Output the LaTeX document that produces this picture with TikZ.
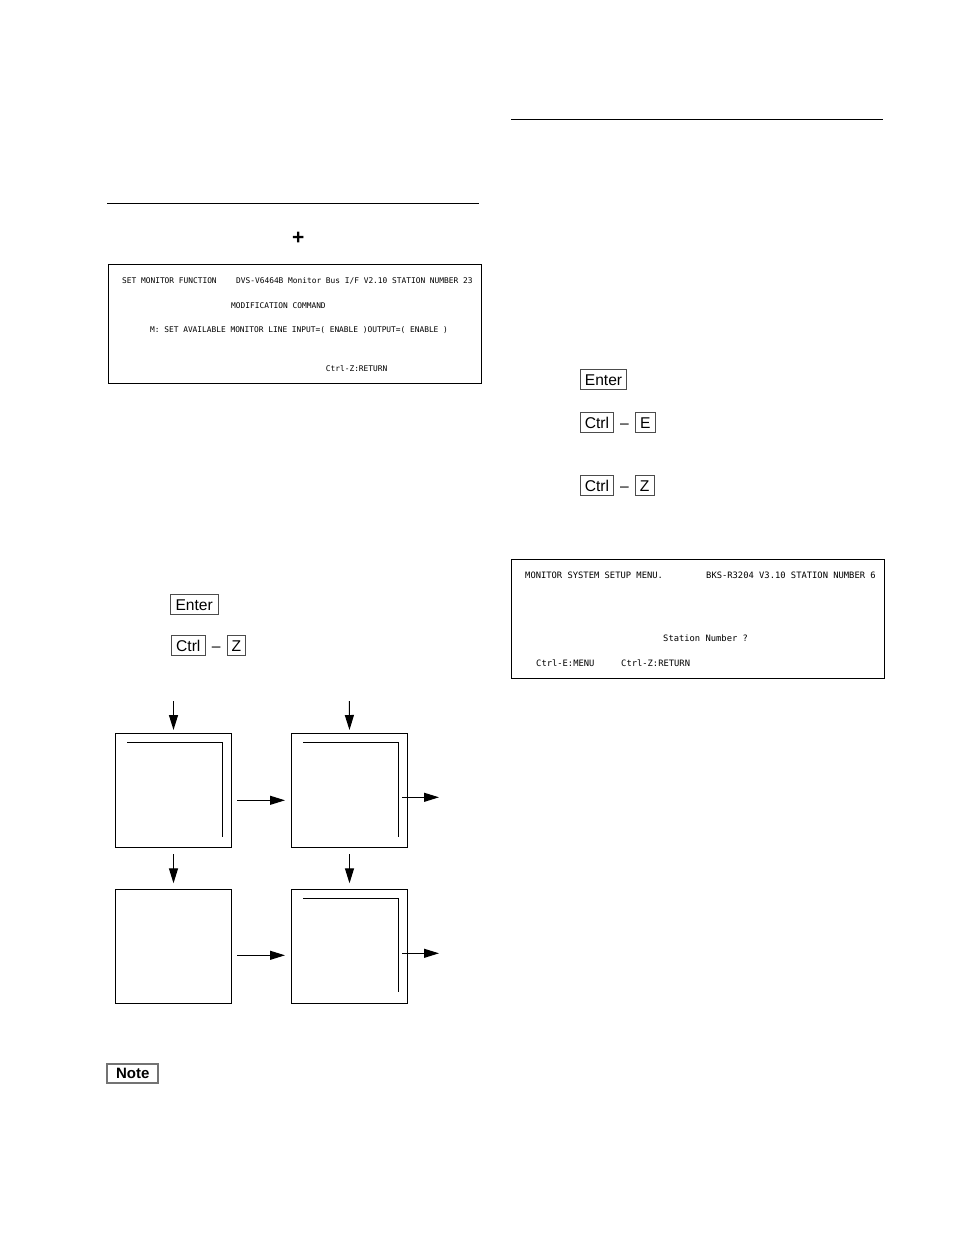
\documentclass[tikz,border=0pt]{standalone}
\usepackage{fontspec}
\setmainfont{Liberation Sans}
\newfontfamily\scrfont{DejaVu Sans Mono}
\usetikzlibrary{calc, positioning, arrows.meta}

\begin{document}
\begin{tikzpicture}[
  x=1pt, y=-1pt,
  scra/.style={anchor=west, inner sep=0pt, font=\scrfont\fontsize{7.85}{9}\selectfont},
  scrb/.style={anchor=west, inner sep=0pt, font=\scrfont\fontsize{8.8}{10}\selectfont},
  screen/.style={draw, line width=1.1pt, outer sep=0pt, minimum width=373pt, minimum height=119pt},
  keycap/.style={draw=black!70, line width=1pt, outer sep=0pt, inner sep=0pt, minimum height=19.5pt, text height=11.2pt, text depth=0pt, font=\fontsize{15.6}{18}\selectfont},
  keydash/.style={inner sep=0pt, outer sep=0pt, minimum width=21.7pt, text height=11.2pt, text depth=0pt, font=\fontsize{15.6}{18}\selectfont},
  mon/.style={draw, line width=1.1pt, outer sep=0pt, minimum width=116.4pt, minimum height=114pt},
  inner/.style={line width=1.1pt},
  arr/.style={-{Triangle[length=15pt,width=9pt]}, line width=1.1pt}
]
\useasboundingbox (0,0) rectangle (954,1243);
% rules
\draw[line width=1.1pt] (107,203.6) -- (479,203.6);
\draw[line width=1.1pt] (511,119.5) -- (883,119.5);
\node (plus) at (298.3,238) [inner sep=0pt, font=\bfseries\fontsize{21}{23}\selectfont] {+};

% first screen
\node (scr1) at (295,323.8) [screen] {};
\node (s1a) at (122,280.4) [scra] {SET MONITOR FUNCTION};
\node (s1b) at (236,280.4) [scra] {DVS-V6464B Monitor Bus I/F V2.10 STATION NUMBER 23};
\node (s1c) at (231,305.4) [scra] {MODIFICATION COMMAND};
\node (s1d) at (150,330.4) [scra] {M: SET AVAILABLE MONITOR LINE INPUT=( ENABLE )OUTPUT=( ENABLE )};
\node (s1e) at (325.7,368.4) [scra] {Ctrl-Z:RETURN};

% second screen
\node (scr2) at (698,618.8) [screen] {};
\node (s2a) at (525,575.4) [scrb] {MONITOR SYSTEM SETUP MENU.};
\node (s2b) at (706,575.4) [scrb] {BKS-R3204 V3.10 STATION NUMBER 6};
\node (s2c) at (663,638) [scrb] {Station Number ?};
\node (s2d) at (536,663.4) [scrb] {Ctrl-E:MENU};
\node (s2e) at (621,663.4) [scrb] {Ctrl-Z:RETURN};

% keys, left column
\node (entl) at (194.2,604.6) [keycap, minimum width=47.7pt] {Enter};
\node (ctrl) at (188.3,645.6) [keycap, minimum width=34pt] {Ctrl};
\node (dl) [keydash, right=0pt of ctrl] {–};
\node (zl) [keycap, right=0pt of dl, minimum width=18.7pt] {Z};

% keys, right column
\node (entr) at (603.5,379.7) [keycap, minimum width=46.7pt] {Enter};
\node (ctre) at (597,422.4) [keycap, minimum width=33.4pt] {Ctrl};
\node (de) [keydash, right=0pt of ctre] {–};
\node (ke) [keycap, right=0pt of de, minimum width=20pt] {E};
\node (ctrz) at (597,485.7) [keycap, minimum width=33.4pt] {Ctrl};
\node (dz) [keydash, right=0pt of ctrz] {–};
\node (kz) [keycap, right=0pt of dz, minimum width=18.7pt] {Z};

% monitors
\node (mona) at (173.5,790.3) [mon] {};
\node (monb) [mon, right=59.6pt of mona] {};
\node (monc) [mon, below=42pt of mona] {};
\node (mond) [mon, below=42pt of monb] {};
\draw[inner] ([shift={(11.7,9)}]mona.north west) -| ([shift={(-9,-10.6)}]mona.south east);
\draw[inner] ([shift={(11.7,9)}]monb.north west) -| ([shift={(-9,-10.6)}]monb.south east);
\draw[inner] ([shift={(11.7,9)}]mond.north west) -| ([shift={(-9,-11.6)}]mond.south east);

\coordinate (ina) at (173.5,701);
\coordinate (inb) at (349.3,701);
\coordinate (outb) at (439,797.3);
\coordinate (outd) at (439,953.3);
\draw[arr, shorten >=3.3pt] (ina) -- (mona.north);
\draw[arr, shorten >=3.3pt] (inb) -- (monb.north);
\draw[arr, shorten <=6.7pt, shorten >=6pt] (mona.south) -- (monc.north);
\draw[arr, shorten <=6.7pt, shorten >=6pt] (monb.south) -- (mond.north);
\draw[arr, shorten <=5.3pt, shorten >=6.3pt] ([yshift=-10pt]mona.east) -- ([yshift=-10pt]monb.west);
\draw[arr, shorten <=5.3pt, shorten >=6.3pt] ([yshift=-9pt]monc.east) -- ([yshift=-9pt]mond.west);
\draw[arr] ([shift={(-5.3,7)}]monb.east) -- (outb);
\draw[arr] ([shift={(-5.3,7)}]mond.east) -- (outd);

% note
\node (note) at (132.7,1073.5) [draw=black!55, line width=1.8pt, inner sep=0pt, minimum width=51pt, minimum height=18.6pt, font=\bfseries\fontsize{15}{17}\selectfont] {Note};
\end{tikzpicture}
\end{document}
